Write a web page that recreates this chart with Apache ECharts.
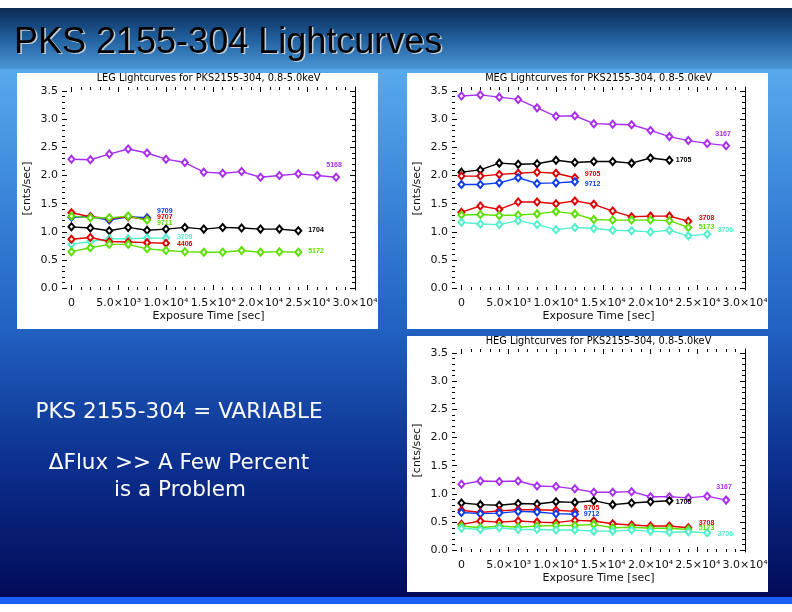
<!DOCTYPE html>
<html><head><meta charset="utf-8">
<script src="https://cdn.jsdelivr.net/npm/echarts@6/dist/echarts.min.js"></script>
<style>html,body{margin:0;padding:0;background:#fff}#c{width:792px;height:612px}</style>
</head><body><div id="c"></div>
<script>
// ---- data ----
const exposure = [0,2000,4000,6000,8000,10000,12000,14000,16000,18000,20000,22000,24000,26000,28000];
const xTicks = [0,5000,10000,15000,20000,25000,30000];
const yTicks = [0,0.5,1.0,1.5,2.0,2.5,3.0,3.5];

// LEG
const leg5168 = [2.29,2.28,2.38,2.47,2.40,2.29,2.23,2.06,2.04,2.07,1.97,2.00,2.03,2.00,1.97];
const leg1704 = [1.09,1.07,1.02,1.08,1.03,1.05,1.08,1.05,1.08,1.07,1.05,1.05,1.02];
const leg9709 = [1.26,1.27,1.21,1.27,1.25];
const leg9707 = [1.34,1.27,1.24,1.27,1.22];
const leg9711 = [1.28,1.25,1.25,1.28,1.21];
const leg3709 = [0.78,0.83,0.88,0.88,0.89,0.89];
const leg4406 = [0.87,0.90,0.83,0.82,0.81,0.80];
const leg5172 = [0.65,0.72,0.78,0.78,0.70,0.67,0.65,0.64,0.64,0.67,0.64,0.65,0.64];
// MEG
const meg3167 = [3.41,3.43,3.39,3.35,3.20,3.05,3.06,2.92,2.91,2.90,2.80,2.69,2.62,2.57,2.53];
const meg1705 = [2.06,2.10,2.22,2.20,2.21,2.27,2.23,2.25,2.25,2.22,2.31,2.27];
const meg9705 = [1.99,1.99,2.02,2.04,2.06,2.04,1.96];
const meg9712 = [1.84,1.84,1.87,1.96,1.86,1.87,1.89];
const meg3708 = [1.35,1.46,1.40,1.53,1.53,1.50,1.55,1.49,1.37,1.27,1.28,1.28,1.19];
const meg5173 = [1.30,1.31,1.29,1.30,1.32,1.36,1.32,1.22,1.21,1.21,1.21,1.20,1.08];
const meg3706 = [1.17,1.14,1.13,1.20,1.13,1.04,1.08,1.06,1.03,1.02,1.00,1.03,0.93,0.96];
// HEG
const heg3167 = [1.17,1.23,1.22,1.23,1.14,1.13,1.09,1.03,1.03,1.04,0.95,0.95,0.93,0.96,0.89];
const heg1705 = [0.84,0.81,0.80,0.83,0.82,0.86,0.85,0.88,0.81,0.84,0.86,0.88];
const heg9705 = [0.71,0.67,0.70,0.72,0.72,0.71,0.69];
const heg9712 = [0.67,0.65,0.66,0.69,0.68,0.65,0.64];
const heg3708 = [0.46,0.52,0.50,0.52,0.50,0.49,0.53,0.52,0.47,0.45,0.43,0.43,0.40];
const heg5173 = [0.43,0.40,0.43,0.41,0.43,0.44,0.44,0.46,0.40,0.41,0.39,0.39,0.37];
const heg3706 = [0.39,0.37,0.40,0.37,0.37,0.36,0.36,0.34,0.34,0.36,0.34,0.32,0.33,0.31];

// ---- styling ----
const F = 'DejaVu Sans';
const C = {purple:'#a92ff0', black:'#000000', red:'#e00000', blue:'#0a3cf0', green:'#5ce000', cyan:'#4ff0cc'};
const xMinor = []; for (let k=1;k<30;k++) if (k%5) xMinor.push(k*1000);
const yMinor = []; for (let k=1;k<35;k++) if (k%5) yMinor.push(k/10);
const sup = {3:'\u00B3',4:'\u2074'};
function fmtX(v){ if (v===0) return '0'; const e = v<10000?3:4; return (v/Math.pow(10,e)).toFixed(1)+'\u00D710'+sup[e]; }

const grids = [
  {left:62, top:87, width:293, height:203},
  {left:452, top:87, width:293, height:203},
  {left:452, top:349, width:293, height:203}
];
const xAxes = [], yAxes = [];
const tl = {color:'#000', width:1};
const noLine = {show:false, onZero:false};
grids.forEach((g,i)=>{
  const bx = {gridIndex:i, type:'value', min:-1000, max:30000, splitLine:{show:false}, axisLine:noLine};
  xAxes.push(Object.assign({}, bx, {position:'bottom',
    axisTick:{show:true, inside:true, length:5, customValues:xTicks, lineStyle:tl},
    axisLabel:{customValues:xTicks, formatter:fmtX, margin:8, fontSize:11, color:'#111', fontFamily:F},
    name:'Exposure Time [sec]', nameLocation:'middle', nameGap:21,
    nameTextStyle:{fontSize:11, color:'#111', fontFamily:F}}));
  xAxes.push(Object.assign({}, bx, {position:'bottom', axisLabel:{show:false},
    axisTick:{show:true, inside:true, length:3, customValues:xMinor, lineStyle:tl}}));
  xAxes.push(Object.assign({}, bx, {position:'top', axisLabel:{show:false},
    axisTick:{show:true, inside:true, length:5, customValues:xTicks, lineStyle:tl}}));
  xAxes.push(Object.assign({}, bx, {position:'top', axisLabel:{show:false},
    axisTick:{show:true, inside:true, length:3, customValues:xMinor, lineStyle:tl}}));
  const by = {gridIndex:i, type:'value', min:-0.03, max:3.57, splitLine:{show:false}, axisLine:noLine};
  yAxes.push(Object.assign({}, by, {position:'left',
    axisTick:{show:true, inside:true, length:5, customValues:yTicks, lineStyle:tl},
    axisLabel:{customValues:yTicks, formatter:v=>v.toFixed(1), margin:4, fontSize:11, color:'#111', fontFamily:F},
    name:'[cnts/sec]', nameLocation:'middle', nameGap:29,
    nameTextStyle:{fontSize:11, color:'#111', fontFamily:F}}));
  yAxes.push(Object.assign({}, by, {position:'left', axisLabel:{show:false},
    axisTick:{show:true, inside:true, length:3, customValues:yMinor, lineStyle:tl}}));
  yAxes.push(Object.assign({}, by, {position:'right', axisLabel:{show:false}, axisLine:{show:true, onZero:false, lineStyle:tl},
    axisTick:{show:true, inside:true, length:5, customValues:yTicks, lineStyle:tl}}));
  yAxes.push(Object.assign({}, by, {position:'right', axisLabel:{show:false},
    axisTick:{show:true, inside:true, length:3, customValues:yMinor, lineStyle:tl}}));
});

function mk(name, vals, color, g, lab){
  const data = vals.map((v,i)=>[exposure[i], v]);
  const last = data.length-1;
  data[last] = {value:data[last], label:Object.assign({show:true, formatter:name, color:color,
      fontSize:7, fontWeight:'bold', fontFamily:'Liberation Sans'}, lab)};
  return {type:'line', name:name, xAxisIndex:g*4, yAxisIndex:g*4, data:data,
    symbol:'emptyDiamond', symbolSize:[6,7], showSymbol:true,
    lineStyle:{color:color, width:1.4}, itemStyle:{color:color, borderWidth:1.1}, z:3};
}
const R = (d,dy)=>({position:'right', distance:d, offset:[0,dy]});
const Tp = (d,dx)=>({position:'top', distance:d, offset:[dx,0]});

const series = [
  mk('5168', leg5168, C.purple, 0, Tp(4,-2)),
  mk('1704', leg1704, C.black, 0, R(6,-1)),
  mk('9709', leg9709, C.blue, 0, R(6,-7)),
  mk('9707', leg9707, C.red, 0, R(6,-2.5)),
  mk('9711', leg9711, C.green, 0, R(6,2.5)),
  mk('3709', leg3709, C.cyan, 0, R(7,-1)),
  mk('4406', leg4406, C.red, 0, R(7,1)),
  mk('5172', leg5172, C.green, 0, R(6,-1)),

  mk('3167', meg3167, C.purple, 1, Tp(4,-3)),
  mk('1705', meg1705, C.black, 1, R(2.5,0)),
  mk('9705', meg9705, C.red, 1, R(6,-3.5)),
  mk('9712', meg9712, C.blue, 1, R(6,2)),
  mk('3708', meg3708, C.red, 1, R(6.5,-3)),
  mk('5173', meg5173, C.green, 1, R(6.5,-0.5)),
  mk('3706', meg3706, C.cyan, 1, R(6.5,-4.3)),

  mk('3167', heg3167, C.purple, 2, Tp(5,-2)),
  mk('1705', heg1705, C.black, 2, R(2.5,1.8)),
  mk('9705', heg9705, C.red, 2, R(5,-3)),
  mk('9712', heg9712, C.blue, 2, R(5,0)),
  mk('3708', heg3708, C.red, 2, R(6.5,-5)),
  mk('5173', heg5173, C.green, 2, R(6.5,-1)),
  mk('3706', heg3706, C.cyan, 2, R(6.5,1.7))
];

const titleStyle = {fontSize:9.8, fontWeight:'normal', color:'#000', fontFamily:F};
const titles = [
  {text:'LEG Lightcurves for PKS2155-304, 0.8-5.0keV', left:208.5, top:73.5, textAlign:'center', textStyle:titleStyle, padding:0},
  {text:'MEG Lightcurves for PKS2155-304, 0.8-5.0keV', left:598.5, top:73.5, textAlign:'center', textStyle:titleStyle, padding:0},
  {text:'HEG Lightcurves for PKS2155-304, 0.8-5.0keV', left:598.5, top:336.5, textAlign:'center', textStyle:titleStyle, padding:0}
];

const lg = (stops)=>({type:'linear', x:0, y:0, x2:0, y2:1, colorStops:stops.map(s=>({offset:s[0], color:s[1]}))});
const graphic = {elements:[
  {type:'rect', z:-20, shape:{x:0,y:0,width:792,height:612}, style:{fill:'#ffffff'}, silent:true},
  {type:'rect', z:-19, shape:{x:0,y:8,width:792,height:61}, style:{fill:lg([[0,'#0a2a52'],[0.5,'#215f9e'],[1,'#4b96d4']])}, silent:true},
  {type:'rect', z:-19, shape:{x:0,y:69,width:792,height:528}, style:{fill:lg([[0,'#58a9ec'],[0.25,'#3a84d9'],[0.5,'#2060c0'],[0.75,'#0c2f8e'],[1,'#020b58']])}, silent:true},
  {type:'rect', z:-19, shape:{x:0,y:597,width:792,height:7}, style:{fill:'#1b5ef2'}, silent:true},
  {type:'rect', z:-18, shape:{x:17,y:73,width:361,height:256}, style:{fill:'#ffffff'}, silent:true},
  {type:'rect', z:-18, shape:{x:407,y:73,width:361,height:256}, style:{fill:'#ffffff'}, silent:true},
  {type:'rect', z:-18, shape:{x:407,y:336,width:361,height:256}, style:{fill:'#ffffff'}, silent:true},
  {type:'text', z:-10, x:15.5, y:44.5, style:{text:'PKS 2155-304 Lightcurves', fill:'#c4ced8', font:'36px "Liberation Sans"', verticalAlign:'middle'}, silent:true},
  {type:'text', z:-9, x:14, y:43, style:{text:'PKS 2155-304 Lightcurves', fill:'#000000', font:'36px "Liberation Sans"', verticalAlign:'middle'}, silent:true},
  {type:'text', z:-9, x:179, y:412, style:{text:'PKS 2155-304 = VARIABLE', fill:'#ffffff', font:'21.5px "DejaVu Sans"', align:'center', verticalAlign:'middle'}, silent:true},
  {type:'text', z:-9, x:179, y:463, style:{text:'\u0394Flux >> A Few Percent', fill:'#ffffff', font:'21.5px "DejaVu Sans"', align:'center', verticalAlign:'middle'}, silent:true},
  {type:'text', z:-9, x:180, y:490, style:{text:'is a Problem', fill:'#ffffff', font:'21.5px "DejaVu Sans"', align:'center', verticalAlign:'middle'}, silent:true}
]};

const chart = echarts.init(document.getElementById('c'), null, {renderer:'canvas'});
chart.setOption({
  animation:false,
  title:titles,
  graphic:graphic,
  grid:grids,
  xAxis:xAxes,
  yAxis:yAxes,
  series:series
});
</script></body></html>
